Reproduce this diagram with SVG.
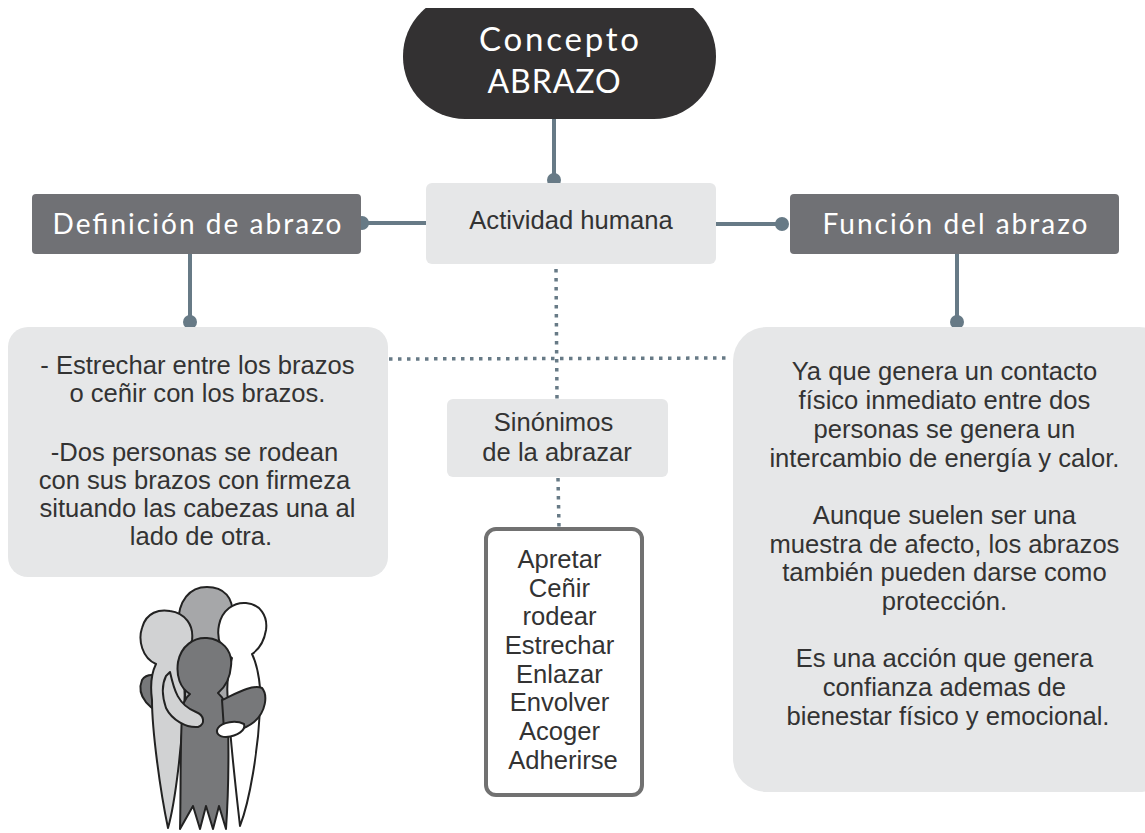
<svg xmlns="http://www.w3.org/2000/svg" width="1145" height="833" viewBox="0 0 1145 833">
  <style>
    .head { font-family: Lato, "Noto Sans", sans-serif; fill: #ffffff; text-anchor: middle; }
    .body { font-family: "Liberation Sans", Arial, sans-serif; font-size: 25.6px; fill: #333333; text-anchor: middle; }
    .light { fill: #e6e7e8; }
    .dark { fill: #707175; }
    .link { stroke: #677a86; stroke-width: 4; fill: none; }
    .dots { stroke: #677a86; stroke-width: 3.5; fill: none; stroke-dasharray: 3.5 5.5; }
    .knob { fill: #677a86; }
    .fig { stroke: #222222; stroke-width: 2; stroke-linejoin: round; }
  </style>
  <defs>
    <clipPath id="topcut"><rect x="0" y="8" width="1145" height="825"/></clipPath>
  </defs>
  <rect width="1145" height="833" fill="#ffffff"/>

  <!-- connectors -->
  <g id="connectors">
    <line class="link" x1="554" y1="118" x2="554" y2="180"/>
    <circle class="knob" cx="554" cy="180" r="7"/>
    <line class="link" x1="362" y1="223" x2="427" y2="223"/>
    <circle class="knob" cx="362" cy="223" r="7"/>
    <line class="link" x1="715" y1="224" x2="782" y2="224"/>
    <circle class="knob" cx="782" cy="224" r="7"/>
    <line class="link" x1="190" y1="253" x2="190" y2="322"/>
    <circle class="knob" cx="190" cy="322" r="7"/>
    <line class="link" x1="957" y1="253" x2="957" y2="322"/>
    <circle class="knob" cx="957" cy="322" r="7"/>
    <line class="dots" x1="556" y1="269" x2="557" y2="399"/>
    <line class="dots" x1="389" y1="359" x2="730" y2="358"/>
    <line class="dots" x1="558" y1="478" x2="559" y2="527"/>
  </g>

  <!-- central title -->
  <g id="concepto">
    <rect x="403" y="-6" width="313" height="125" rx="62" fill="#333132" clip-path="url(#topcut)"/>
    <text class="head" x="559" y="51" font-size="33" textLength="160" lengthAdjust="spacing">Concepto</text>
    <text class="head" x="554" y="93" font-size="32" textLength="133" lengthAdjust="spacing">ABRAZO</text>
  </g>

  <g id="actividad">
    <rect class="light" x="426" y="183" width="290" height="81" rx="6"/>
    <text class="body" x="571" y="229">Actividad humana</text>
  </g>

  <g id="definicion">
    <rect class="dark" x="32" y="194" width="329" height="60" rx="4"/>
    <text class="head" x="197" y="234" font-size="28" textLength="289" lengthAdjust="spacing">Definición de abrazo</text>
  </g>

  <g id="funcion">
    <rect class="dark" x="790" y="194" width="329" height="60" rx="4"/>
    <text class="head" x="955" y="234" font-size="28" textLength="265" lengthAdjust="spacing">Función del abrazo</text>
  </g>

  <g id="definicion-texto">
    <rect class="light" x="8" y="327" width="380" height="250" rx="20"/>
    <text class="body">
      <tspan x="201" y="374">- Estrechar entre los brazos</tspan>
      <tspan x="201" y="402">o ceñir con los brazos.</tspan>
      <tspan x="198" y="461">-Dos personas se rodean</tspan>
      <tspan x="198" y="489">con sus brazos con firmeza</tspan>
      <tspan x="201" y="517">situando las cabezas una al</tspan>
      <tspan x="201" y="545">lado de otra.</tspan>
    </text>
  </g>

  <g id="funcion-texto">
    <rect class="light" x="733" y="327" width="440" height="465" rx="34"/>
    <text class="body">
      <tspan x="948" y="380">Ya que genera un contacto</tspan>
      <tspan x="948" y="409">físico inmediato entre dos</tspan>
      <tspan x="948" y="438">personas se genera un</tspan>
      <tspan x="948" y="467">intercambio de energía y calor.</tspan>
      <tspan x="948" y="524">Aunque suelen ser una</tspan>
      <tspan x="948" y="553">muestra de afecto, los abrazos</tspan>
      <tspan x="948" y="581">también pueden darse como</tspan>
      <tspan x="948" y="610">protección.</tspan>
      <tspan x="948" y="667">Es una acción que genera</tspan>
      <tspan x="948" y="696">confianza ademas de</tspan>
      <tspan x="948" y="725">bienestar físico y emocional.</tspan>
    </text>
  </g>

  <g id="sinonimos">
    <rect class="light" x="447" y="399" width="221" height="78" rx="6"/>
    <text class="body">
      <tspan x="557" y="431">Sinónimos</tspan>
      <tspan x="557" y="461">de la abrazar</tspan>
    </text>
  </g>

  <g id="lista-sinonimos">
    <rect x="486" y="529" width="156" height="266" rx="10" fill="#ffffff" stroke="#717171" stroke-width="4"/>
    <text class="body">
      <tspan x="563" y="568">Apretar</tspan>
      <tspan x="563" y="597">Ceñir</tspan>
      <tspan x="563" y="625">rodear</tspan>
      <tspan x="563" y="654">Estrechar</tspan>
      <tspan x="563" y="683">Enlazar</tspan>
      <tspan x="563" y="711">Envolver</tspan>
      <tspan x="563" y="740">Acoger</tspan>
      <tspan x="563" y="769">Adherirse</tspan>
    </text>
  </g>

  <!-- group hug illustration -->
  <g id="abrazo-figura" class="fig">
    <path fill="#a6a7a9" d="M180,700 L178,625 C178,600 190,587 207,587 C224,587 234,598 232,615 L232,700 Z"/>
    <path fill="#77787a" d="M185,690 C170,680 150,668 142,680 C136,695 148,712 175,718 L185,715 Z"/>
    <path fill="#d1d2d3" d="M168,828 C160,790 152,730 152,700 C150,685 152,672 156,664 C142,658 138,640 142,628 C146,612 160,609 170,611 C185,613 194,625 192,640 C190,652 184,660 178,664 C183,672 186,690 184,705 C182,740 176,800 168,828 Z"/>
    <path fill="#ffffff" d="M240,826 C236,790 230,740 228,700 C226,685 228,672 232,658 C222,652 216,640 219,625 C222,610 234,602 246,603 C260,604 268,616 266,630 C264,642 258,650 252,654 C258,666 262,690 260,710 C258,750 250,800 240,826 Z"/>
    <path fill="#77787a" d="M180,829 C181,790 180,750 182,715 C182,705 185,698 190,694 C180,688 176,676 178,662 C181,646 194,637 207,638 C221,639 233,650 231,666 C230,680 224,688 218,693 C224,698 228,706 228,720 C229,760 228,800 226,829 L219,806 L213,829 L206,806 L200,829 L193,806 Z"/>
    <path fill="#d1d2d3" d="M170,672 C174,690 178,705 196,712 C204,715 206,724 198,727 C186,728 172,720 166,708 C162,696 162,684 166,676 Z"/>
    <path fill="#77787a" d="M222,700 C235,694 252,684 262,688 C268,695 266,712 254,722 C244,730 232,732 224,730 Z"/>
    <path fill="#ffffff" d="M218,728 C222,722 236,720 244,724 C246,730 238,736 226,737 C219,737 215,733 218,728 Z"/>
  </g>
</svg>
